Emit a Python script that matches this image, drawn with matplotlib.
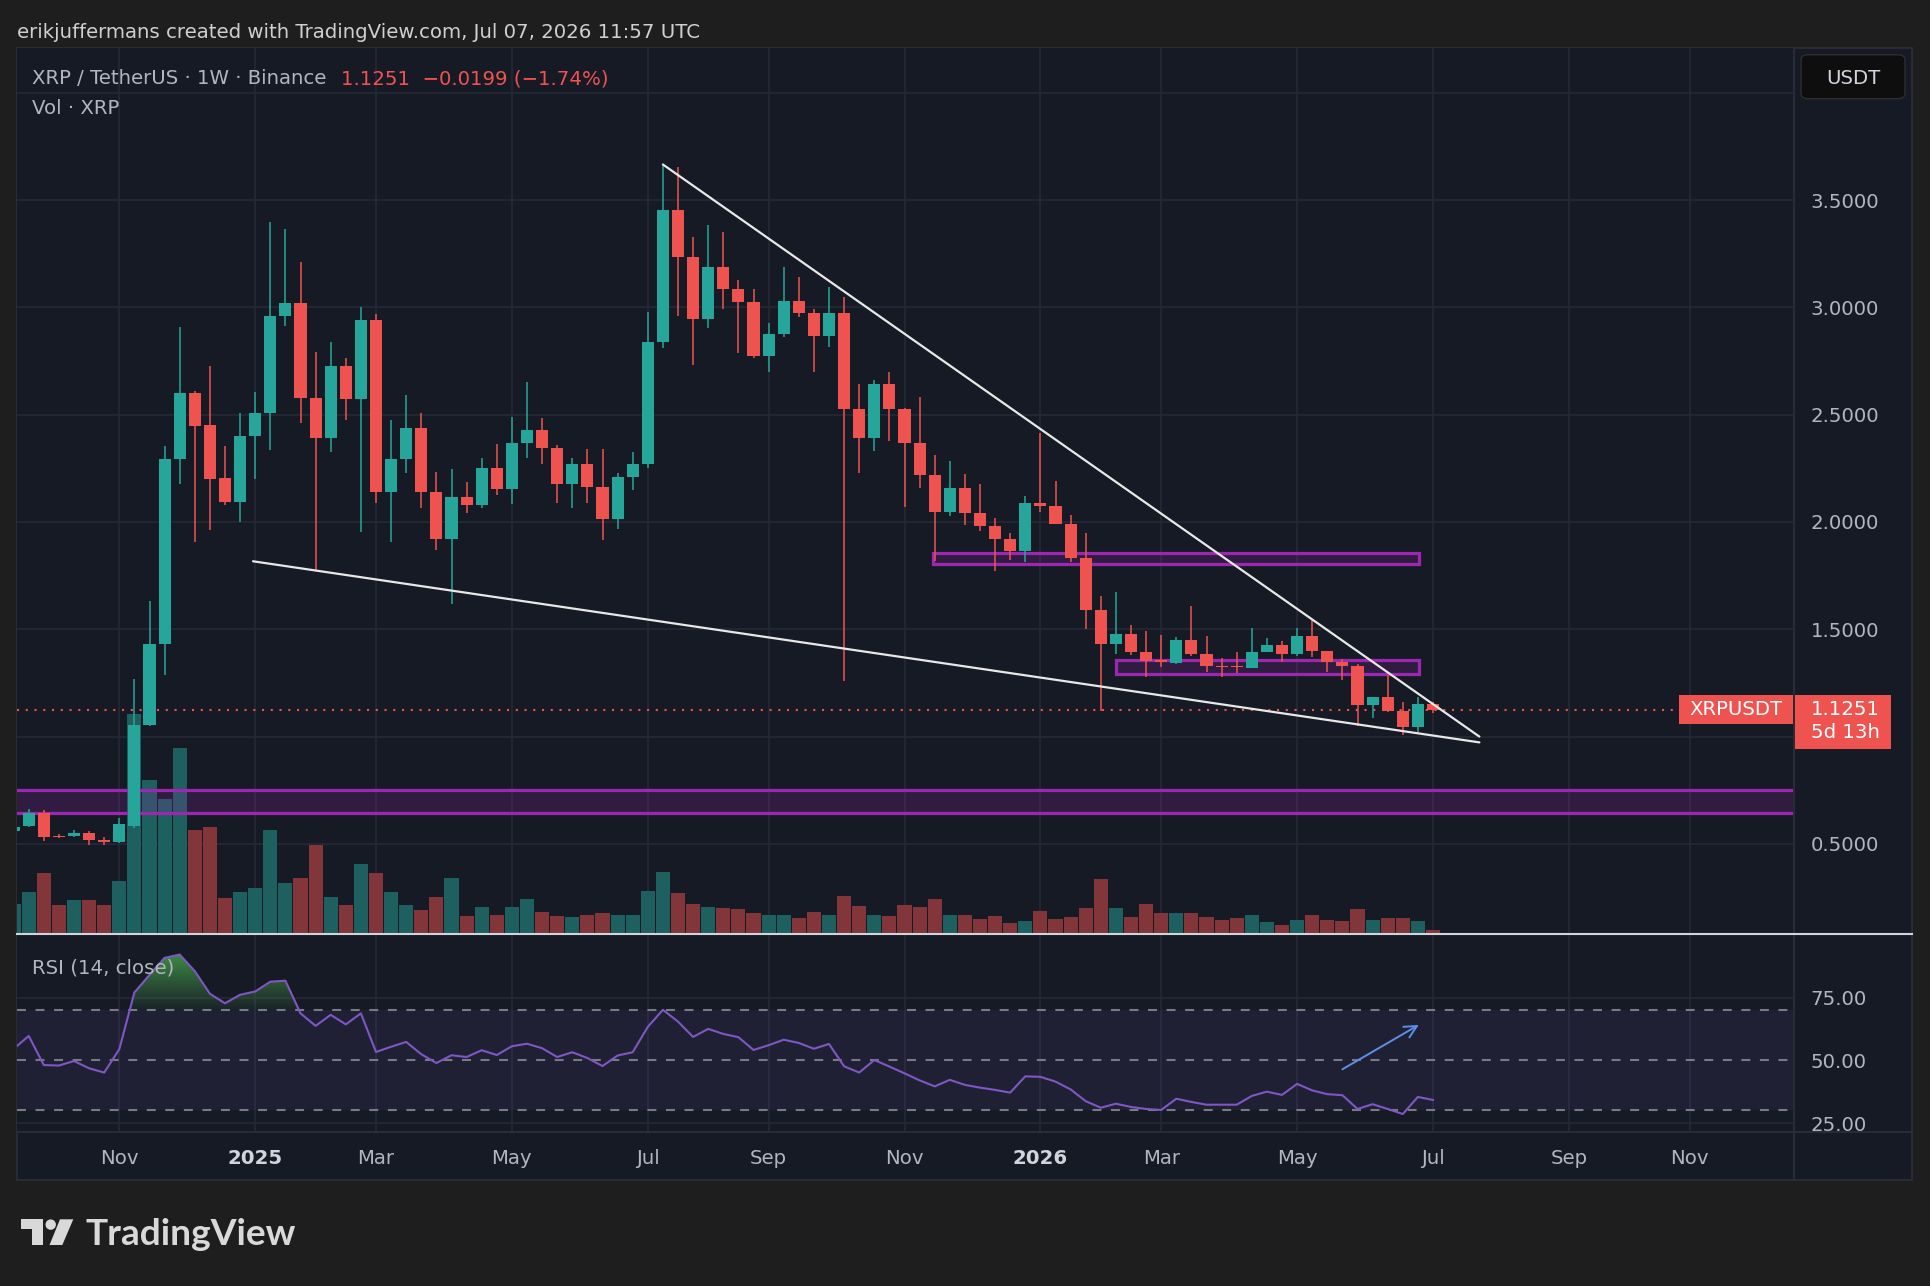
import numpy as np
import pandas as pd
import matplotlib
matplotlib.use("Agg")
import matplotlib.pyplot as plt
import matplotlib.dates as mdates
import matplotlib.transforms as mtransforms
from matplotlib.patches import Rectangle, FancyBboxPatch, Polygon, Circle
from matplotlib.lines import Line2D
from matplotlib.path import Path

plt.rcParams['font.family'] = ['DejaVu Sans']

# ---------------- data (weekly XRP/USDT, first bar = week of 2024-09-16) ----------------
first_week = "2024-09-16"
opens = [0.560, 0.585, 0.645, 0.536, 0.536, 0.550, 0.519, 0.507, 0.585, 1.056,
         1.433, 2.293, 2.602, 2.450, 2.205, 2.094, 2.400, 2.507, 2.961, 3.020,
         2.578, 2.391, 2.728, 2.574, 2.942, 2.139, 2.293, 2.440, 2.139, 1.923,
         2.118, 2.077, 2.253, 2.156, 2.367, 2.429, 2.343, 2.177, 2.270, 2.165,
         2.015, 2.208, 2.270, 2.837, 3.455, 3.236, 2.947, 3.189, 3.087, 3.025,
         2.773, 2.878, 3.030, 2.973, 2.868, 2.973, 2.526, 2.391, 2.645, 2.526,
         2.367, 2.217, 2.046, 2.158, 2.044, 1.980, 1.923, 1.863, 2.089, 2.075,
         1.992, 1.833, 1.590, 1.433, 1.476, 1.393, 1.357, 1.343, 1.450, 1.386,
         1.330, 1.327, 1.320, 1.392, 1.429, 1.383, 1.470, 1.398, 1.347, 1.331,
         1.149, 1.184, 1.121, 1.044, 1.152]
highs = [0.590, 0.664, 0.657, 0.545, 0.566, 0.562, 0.531, 0.621, 1.270, 1.633,
         2.353, 2.911, 2.611, 2.728, 2.353, 2.510, 2.605, 3.400, 3.367, 3.213,
         2.790, 2.840, 2.764, 3.001, 2.968, 2.474, 2.593, 2.507, 2.232, 2.248,
         2.186, 2.300, 2.362, 2.488, 2.652, 2.483, 2.360, 2.298, 2.338, 2.338,
         2.228, 2.327, 2.977, 3.666, 3.652, 3.329, 3.384, 3.353, 3.127, 3.084,
         2.928, 3.186, 3.141, 2.994, 3.096, 3.049, 2.645, 2.664, 2.700, 2.533,
         2.581, 2.310, 2.286, 2.222, 2.179, 2.018, 1.951, 2.122, 2.414, 2.191,
         2.034, 1.949, 1.657, 1.676, 1.519, 1.493, 1.474, 1.464, 1.609, 1.469,
         1.367, 1.392, 1.507, 1.460, 1.445, 1.507, 1.547, 1.398, 1.362, 1.339,
         1.184, 1.289, 1.162, 1.184, 1.160]
lows = [0.550, 0.578, 0.514, 0.526, 0.533, 0.495, 0.497, 0.502, 0.574, 1.050,
        1.286, 2.177, 1.906, 1.963, 2.077, 1.999, 2.200, 2.334, 2.913, 2.462,
        1.773, 2.324, 2.474, 1.954, 2.089, 1.906, 2.230, 2.063, 1.868, 1.619,
        2.042, 2.063, 2.127, 2.085, 2.300, 2.270, 2.087, 2.063, 2.087, 1.916,
        1.966, 2.149, 2.253, 2.809, 2.958, 2.730, 2.906, 2.994, 2.787, 2.764,
        2.701, 2.864, 2.954, 2.701, 2.815, 1.260, 2.226, 2.329, 2.379, 2.068,
        2.158, 1.818, 2.030, 1.985, 1.956, 1.773, 1.825, 1.813, 2.046, 1.992,
        1.813, 1.500, 1.120, 1.385, 1.381, 1.277, 1.324, 1.338, 1.374, 1.300,
        1.280, 1.295, 1.320, 1.392, 1.347, 1.377, 1.370, 1.300, 1.266, 1.050,
        1.087, 1.115, 1.009, 1.020, 1.109]
closes = [0.580, 0.645, 0.533, 0.533, 0.550, 0.519, 0.507, 0.593, 1.056, 1.433,
          2.293, 2.602, 2.448, 2.201, 2.094, 2.400, 2.507, 2.961, 3.020, 2.578,
          2.391, 2.728, 2.574, 2.942, 2.139, 2.293, 2.440, 2.139, 1.923, 2.118,
          2.077, 2.253, 2.156, 2.367, 2.429, 2.343, 2.177, 2.270, 2.165, 2.015,
          2.208, 2.270, 2.837, 3.455, 3.236, 2.947, 3.189, 3.087, 3.025, 2.773,
          2.878, 3.030, 2.973, 2.868, 2.973, 2.526, 2.391, 2.645, 2.526, 2.367,
          2.217, 2.046, 2.158, 2.044, 1.980, 1.923, 1.863, 2.089, 2.075, 1.992,
          1.833, 1.590, 1.433, 1.476, 1.393, 1.353, 1.348, 1.450, 1.386, 1.331,
          1.325, 1.323, 1.392, 1.429, 1.383, 1.470, 1.398, 1.347, 1.328, 1.149,
          1.184, 1.121, 1.044, 1.152, 1.1251]
volumes = [760, 1055, 1525, 725, 850, 850, 735, 1335, 5500, 3850,
           3375, 4650, 2610, 2675, 890, 1040, 1145, 2610, 1285, 1400,
           2225, 915, 725, 1750, 1525, 1040, 735, 610, 915, 1400,
           445, 675, 470, 675, 875, 560, 445, 420, 470, 520,
           470, 470, 1080, 1550, 1015, 750, 675, 660, 635, 535,
           470, 470, 405, 545, 480, 950, 700, 480, 445, 725,
           675, 875, 480, 470, 365, 445, 265, 325, 570, 375,
           420, 660, 1375, 650, 420, 760, 515, 515, 535, 430,
           360, 400, 470, 290, 225, 360, 470, 360, 335, 620,
           360, 400, 400, 335, 95]  # million XRP
rsi = [54.5, 59.7, 48.1, 47.9, 49.7, 46.8, 45.1, 54.4, 77.0, 84.0,
       90.8, 92.1, 85.5, 76.5, 72.7, 76.1, 77.4, 81.3, 81.7, 68.7,
       63.7, 68.1, 64.3, 68.7, 53.3, 55.4, 57.3, 52.4, 48.9, 52.0,
       51.3, 54.0, 52.1, 55.6, 56.6, 54.8, 51.3, 53.2, 50.9, 47.7,
       51.9, 53.2, 63.3, 70.1, 65.4, 59.3, 62.5, 60.5, 59.2, 54.1,
       56.0, 58.2, 56.9, 54.6, 56.5, 47.6, 45.1, 50.1, 47.5, 44.8,
       42.0, 39.6, 42.2, 40.2, 39.1, 38.2, 37.1, 43.6, 43.4, 41.5,
       38.4, 33.7, 31.1, 32.7, 31.4, 30.6, 30.2, 34.7, 33.4, 32.3,
       32.3, 32.3, 35.8, 37.5, 36.2, 40.6, 38.0, 36.5, 36.1, 30.6,
       32.5, 30.6, 28.6, 35.4, 34.2]

month_ticks = ['2024-11-04', '2025-01-06', '2025-03-03', '2025-05-05', '2025-07-07',
               '2025-09-01', '2025-11-03', '2026-01-05', '2026-03-02', '2026-05-04',
               '2026-07-06', '2026-09-07', '2026-11-02']
month_labels = ['Nov', '2025', 'Mar', 'May', 'Jul', 'Sep', 'Nov', '2026', 'Mar', 'May',
                'Jul', 'Sep', 'Nov']
price_ticks = [0.5, 1.5, 2.0, 2.5, 3.0, 3.5]
price_grid = [0.5, 1.0, 1.5, 2.0, 2.5, 3.0, 3.5, 4.0]
rsi_ticks = [25, 50, 75]

# drawings
upper_line_dates = ['2025-07-14', '2026-07-27 12:00']
upper_line_prices = [3.666, 1.000]
lower_line_dates = ['2025-01-05', '2026-07-27 12:00']
lower_line_prices = [1.817, 0.973]
box_upper = (('2025-11-16', '2026-06-29 17:00'), (1.805, 1.856))
box_mid = (('2026-02-09', '2026-06-29 17:00'), (1.293, 1.359))
band_zone = (0.643, 0.750)
rsi_arrow = (('2026-05-25', 46.4), ('2026-06-29 10:00', 64.1))
last_price = 1.1251

# ---------------- figure ----------------
W, H = 1930, 1286
fig = plt.figure(figsize=(W / 100, H / 100), dpi=100)
fig.patch.set_facecolor('#1e1e1e')

BG = '#161a25'
GRID = '#252935'
TXT = '#b2b5be'
UP = '#26a69a'
DN = '#ef5350'
PURP = '#9c27b0'
FS = 14.2


def rect(x0, y0, x1, y1):
    return [x0 / W, 1 - y1 / H, (x1 - x0) / W, (y1 - y0) / H]


def d2n(s):
    return mdates.date2num(np.datetime64(s))


def fline(x0, y0, x1, y1, **kw):
    fig.add_artist(Line2D([x0 / W, x1 / W], [1 - y0 / H, 1 - y1 / H],
                          transform=fig.transFigure, **kw))


# panel background
fig.add_artist(Rectangle((17 / W, 1 - 1180 / H), (1912 - 17) / W, (1180 - 47.7) / H,
                         transform=fig.transFigure, facecolor=BG, edgecolor='#2c2f36',
                         lw=1.2, zorder=-5))

dates = pd.date_range(first_week, periods=len(opens), freq='7D')
xd = mdates.date2num(dates.values)
x0 = d2n('2024-11-04')
px_per_day = 15.1 / 7
xlim = (x0 + (17 - 119.3) / px_per_day, x0 + (1793 - 119.3) / px_per_day)
ylim = (0.0801, 4.2102)
tick_x = [d2n(s) for s in month_ticks]

o = np.array(opens); h = np.array(highs); l = np.array(lows); c = np.array(closes)
up = c >= o
cols = np.where(up, UP, DN)

# ---- volume axes (underneath) ----
ax_vol = fig.add_axes(rect(17, 47.7, 1793, 934), label='vol')
ax_vol.set_facecolor(BG)
ax_vol.set_xlim(*xlim)
ax_vol.set_ylim(0, 886.3 * 25)
for s in ax_vol.spines.values():
    s.set_visible(False)
ax_vol.set_xticks([]); ax_vol.set_yticks([])

# ---- price axes ----
ax = fig.add_axes(rect(17, 47.7, 1793, 934), label='price')
ax.set_facecolor('none')
ax.set_xlim(*xlim)
ax.set_ylim(*ylim)
for s in ax.spines.values():
    s.set_visible(False)

# grid (on volume axes so it sits below the bars)
for tx in tick_x:
    ax_vol.axvline(tx, color=GRID, lw=1.2, zorder=0)
gtrans = mtransforms.blended_transform_factory(ax_vol.transAxes, ax.transData)
for p in price_grid:
    ax_vol.plot([0, 1], [p, p], transform=gtrans, color=GRID, lw=1.2, zorder=0)

vol_cols = np.where(up, '#1e605f', '#82363a')
ax_vol.bar(xd, volumes, width=7 * 0.93, color=vol_cols, zorder=2)

# purple zones
ax.axhspan(band_zone[0], band_zone[1], facecolor=PURP, alpha=0.2, lw=0, zorder=1)
for p in band_zone:
    ax.axhline(p, color=PURP, lw=2.3, zorder=2)
for (dd, pp) in (box_upper, box_mid):
    xa, xb = d2n(dd[0]), d2n(dd[1])
    ax.add_patch(Rectangle((xa, pp[0]), xb - xa, pp[1] - pp[0], facecolor=(0.61, 0.15, 0.69, 0.2),
                           edgecolor=PURP, lw=2.3, zorder=2))

# candles
ax.vlines(xd, l, h, colors=cols, lw=1.1, zorder=4)
body_lo = np.minimum(o, c)
body_h = np.maximum(np.abs(c - o), 0.006)
ax.bar(xd, body_h, bottom=body_lo, width=7 * 0.8, color=cols, lw=0, zorder=5)

# trend lines
ax.plot([d2n(s) for s in upper_line_dates], upper_line_prices, color='#e8e8e8', lw=1.6,
        zorder=6, solid_capstyle='round')
ax.plot([d2n(s) for s in lower_line_dates], lower_line_prices, color='#e8e8e8', lw=1.6,
        zorder=6, solid_capstyle='round')

# last price dotted line
btrans = mtransforms.blended_transform_factory(fig.transFigure, ax.transData)
ax.plot([17 / W, 1679 / W], [last_price, last_price], transform=btrans, color=DN, lw=1.5,
        linestyle=(0, (1, 3.2)), zorder=3)

# price axis labels
ax.yaxis.tick_right()
ax.set_yticks(price_ticks)
ax.set_yticklabels(['%.4f' % p for p in price_ticks])
ax.tick_params(axis='y', length=0, pad=12.7, labelsize=FS, labelcolor=TXT)
ax.set_xticks([])

# price labels boxes
upp = 886.3 / (ylim[1] - ylim[0])  # px per unit
top = last_price + 14.75 / upp
fig.add_artist(Rectangle((1679 / W, top - 29.5 / upp), (1792.7 - 1679) / W, 29.5 / upp,
                         transform=btrans, facecolor=DN, edgecolor='none', zorder=5))
fig.add_artist(Rectangle((1795 / W, top - 54.5 / upp), (1891 - 1795) / W, 54.5 / upp,
                         transform=btrans, facecolor=DN, edgecolor='none', zorder=5))
fig.text(1735.8 / W, last_price, 'XRPUSDT', transform=btrans, color='white', fontsize=FS,
         ha='center', va='center', zorder=6)
fig.text(1810.7 / W, last_price, '%.4f' % last_price, transform=btrans, color='white',
         fontsize=FS, ha='left', va='center', zorder=6)
fig.text(1810.7 / W, last_price - 23 / upp, '5d 13h', transform=btrans, color='white',
         fontsize=FS, ha='left', va='center', zorder=6)

# ---- RSI axes ----
axr = fig.add_axes(rect(17, 934, 1793, 1132), label='rsi')
axr.set_facecolor(BG)
for s in axr.spines.values():
    s.set_visible(False)
axr.set_xlim(*xlim)
axr.set_ylim(21.43, 100.3)
for tx in tick_x:
    axr.axvline(tx, color=GRID, lw=1.2, zorder=0)
for p in (25, 75):
    axr.axhline(p, color=GRID, lw=1.2, zorder=0)
axr.axhspan(30, 70, facecolor='#7e57c2', alpha=0.1, lw=0, zorder=1)
for p in (30, 50, 70):
    axr.axhline(p, color='#787b86', lw=1.5, linestyle=(0, (4.3, 4.6)), zorder=2)

rsi_arr = np.array(rsi)
coll = axr.fill_between(xd, rsi_arr, 70, where=rsi_arr > 70, interpolate=True,
                        facecolor='none', edgecolor='none')
paths = coll.get_paths()
if paths:
    clip = Path.make_compound_path(*paths)
    vals = np.linspace(70, 100, 256)
    grad = np.zeros((256, 1, 4))
    grad[..., 0] = 0x4c / 255
    grad[..., 1] = 0xaf / 255
    grad[..., 2] = 0x50 / 255
    grad[:, 0, 3] = np.clip((vals - 70) / 23, 0, 1) * 0.72 + 0.06
    im = axr.imshow(grad, extent=[xlim[0], xlim[1], 70, 100], origin='lower',
                    aspect='auto', zorder=3, interpolation='bilinear')
    im.set_clip_path(clip, transform=axr.transData)
axr.set_xlim(*xlim)
axr.set_ylim(21.43, 100.3)
axr.plot(xd, rsi_arr, color='#7e57c2', lw=1.5, zorder=5)

axr.annotate('', xy=(d2n(rsi_arrow[1][0]), rsi_arrow[1][1]),
             xytext=(d2n(rsi_arrow[0][0]), rsi_arrow[0][1]),
             arrowprops=dict(arrowstyle='->', color='#5b8fe8', lw=1.4, mutation_scale=22,
                             shrinkA=0, shrinkB=0), zorder=6)

axr.yaxis.tick_right()
axr.set_yticks(rsi_ticks)
axr.set_yticklabels(['%.2f' % v for v in rsi_ticks])
axr.tick_params(axis='y', length=0, pad=12.7, labelsize=FS, labelcolor=TXT)
axr.set_xticks([])
axr.text(15 / 1776, 0.83, 'RSI (14, close)', transform=axr.transAxes,
         color=TXT, fontsize=FS, va='center', ha='left', zorder=7)

# time axis labels
ttrans = mtransforms.blended_transform_factory(axr.transData, fig.transFigure)
for tx, lab in zip(tick_x, month_labels):
    fig.text(tx, 1 - 1158 / H, lab, transform=ttrans, color=TXT if not lab.isdigit() else '#d1d4dc',
             fontsize=FS, ha='center', va='center',
             fontweight='bold' if lab.isdigit() else 'normal')

# separators
fline(1793.5, 47.7, 1793.5, 1180, color='#2a2e39', lw=1.3, zorder=4)
fline(17, 1132, 1912, 1132, color='#2a2e39', lw=1.3, zorder=4)
fline(17, 934, 1912, 934, color='#d1d4dc', lw=1.5, zorder=4)

# USDT button
fig.add_artist(FancyBboxPatch((1801 / W, 1 - 98.7 / H), 104 / W, 44 / H,
                              boxstyle='round,pad=0,rounding_size=0.004',
                              transform=fig.transFigure, facecolor='#0e0e0e',
                              edgecolor='#2e2e2e', lw=1, zorder=5))
fig.text(1853 / W, 1 - 78 / H, 'USDT', color='#d1d4dc', fontsize=FS, ha='center', va='center',
         zorder=6)

# header and legend
fig.text(17 / W, 1 - 32 / H, 'erikjuffermans created with TradingView.com, Jul 07, 2026 11:57 UTC',
         color='#cfcfcf', fontsize=FS, ha='left', va='center')
fig.text(32 / W, 1 - 79 / H, 'XRP / TetherUS \u00b7 1W \u00b7 Binance', color=TXT, fontsize=FS,
         ha='left', va='center')
fig.text(340.7 / W, 1 - 79 / H, '1.1251  \u22120.0199 (\u22121.74%)', color=DN, fontsize=FS,
         ha='left', va='center')
fig.text(32 / W, 1 - 108 / H, 'Vol \u00b7 XRP', color=TXT, fontsize=FS, ha='left', va='center')

# TradingView logo
ident = mtransforms.IdentityTransform()
LOGO = '#d9d9d9'
fig.add_artist(Polygon([(20.7, H - 1219.3), (42.7, H - 1219.3), (42.7, H - 1245),
                        (31.7, H - 1245), (31.7, H - 1229.3), (20.7, H - 1229.3)],
                       closed=True, transform=ident, facecolor=LOGO, edgecolor='none'))
fig.add_artist(Circle((50.7, H - 1224.6), 5.2, transform=ident, facecolor=LOGO, edgecolor='none'))
fig.add_artist(Polygon([(60.0, H - 1219.3), (73.3, H - 1219.3), (62.3, H - 1245),
                        (49.5, H - 1245)], closed=True, transform=ident, facecolor=LOGO,
                       edgecolor='none'))
tv = fig.text(86 / W, 1 - 1245 / H, 'TradingView', color=LOGO, fontsize=26,
              family=['Lato', 'DejaVu Sans'], fontweight='bold', ha='left', va='baseline')
renderer = fig.canvas.get_renderer()
bb = tv.get_window_extent(renderer)
if bb.width > 0:
    tv.set_fontsize(26 * 211 / bb.width)

fig.savefig('out.png', dpi=100, facecolor=fig.get_facecolor())
